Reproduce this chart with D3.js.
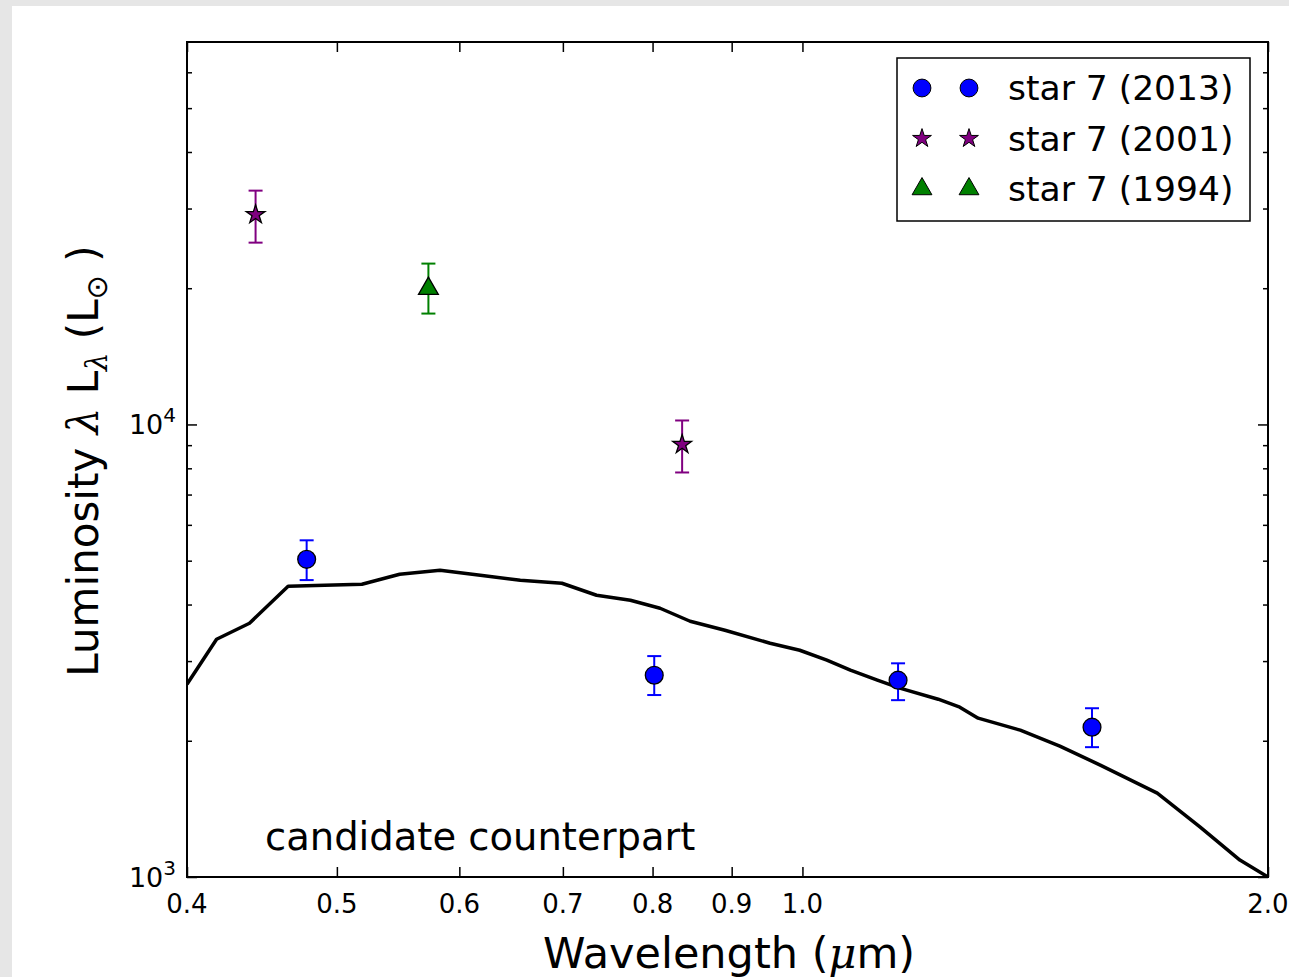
<!DOCTYPE html>
<html><head><meta charset="utf-8">
<script src="https://cdn.jsdelivr.net/npm/d3@7"></script>
<style>
html,body{margin:0;padding:0;background:#e6e6e6;}
svg{display:block;font-family:"DejaVu Sans",sans-serif;}
</style></head>
<body>
<svg id="c" width="1289" height="977"></svg>
<script>
// ---- data ----
const modelWave = [0.400,0.418,0.439,0.465,0.491,0.519,0.549,0.583,0.619,0.657,0.699,0.736,0.774,0.809,0.846,0.891,0.953,0.996,1.037,1.074,1.118,1.156,1.224,1.264,1.299,1.383,1.467,1.558,1.696,1.808,1.918,2.000];
const modelLum  = [2667,3353,3637,4389,4411,4434,4665,4761,4641,4524,4457,4194,4089,3925,3674,3510,3285,3170,3013,2864,2722,2614,2471,2373,2244,2111,1946,1767,1532,1289,1090,1000];

const s2013Wave = [0.478,0.802,1.153,1.539];
const s2013Lum  = [5035,2792,2722,2143];
const s2013Lo   = [4530,2524,2459,1936];
const s2013Hi   = [5546,3077,2966,2360];

const s2001Wave = [0.443,0.836];
const s2001Lum  = [29080,9032];
const s2001Lo   = [25220,7832];
const s2001Hi   = [32860,10204];

const s1994Wave = [0.573];
const s1994Lum  = [19960];
const s1994Lo   = [17580];
const s1994Hi   = [22670];

const xTicks = [0.4,0.5,0.6,0.7,0.8,0.9,1.0,2.0];
const xTickLabels = ["0.4","0.5","0.6","0.7","0.8","0.9","1.0","2.0"];
const yMajor = [1000,10000];
const yMajorExp = ["3","4"];
const yMinor = [2000,3000,4000,5000,6000,7000,8000,9000,20000,30000,40000,50000,60000];
const legendLabels = ["star 7 (2013)","star 7 (2001)","star 7 (1994)"];

// ---- layout ----
const svg = d3.select("#c");
svg.append("rect").attr("x",12).attr("y",6).attr("width",1289).attr("height",977).attr("fill","#fff");
const L=187,R=1268,T=42,B=877;
const x = d3.scaleLog().domain([0.4,2.0]).range([L,R]);
const y = d3.scaleLog().domain([1000,70000]).range([B,T]);

// axes ticks (inward)
const gB = svg.append("g").attr("transform",`translate(0,${B})`)
  .call(d3.axisBottom(x).tickValues(xTicks).tickSize(-10).tickFormat(""));
const gT = svg.append("g").attr("transform",`translate(0,${T})`)
  .call(d3.axisTop(x).tickValues(xTicks).tickSize(-10).tickFormat(""));
const gL = svg.append("g").attr("transform",`translate(${L},0)`)
  .call(d3.axisLeft(y).tickValues(yMajor).tickSize(-10).tickFormat(""));
const gR = svg.append("g").attr("transform",`translate(${R},0)`)
  .call(d3.axisRight(y).tickValues(yMajor).tickSize(-10).tickFormat(""));
const gLm = svg.append("g").attr("transform",`translate(${L},0)`)
  .call(d3.axisLeft(y).tickValues(yMinor).tickSize(-5).tickFormat(""));
const gRm = svg.append("g").attr("transform",`translate(${R},0)`)
  .call(d3.axisRight(y).tickValues(yMinor).tickSize(-5).tickFormat(""));
[gB,gT,gL,gR,gLm,gRm].forEach(g=>{
  g.select(".domain").remove();
  g.selectAll("line").attr("stroke","#000").attr("stroke-width",1.5);
});

// tick labels
svg.append("g").selectAll("text").data(xTicks).join("text")
  .attr("x",d=>x(d)).attr("y",913).attr("text-anchor","middle")
  .attr("font-size",26).attr("fill","#000")
  .text((d,i)=>xTickLabels[i]);
const yl = svg.append("g").selectAll("text").data(yMajor).join("text")
  .attr("x",176).attr("y",d=>y(d)+10).attr("text-anchor","end")
  .attr("font-size",27).attr("fill","#000");
yl.append("tspan").text("10");
yl.append("tspan").attr("font-size",20).attr("dy",-12).text((d,i)=>yMajorExp[i]);

// model line
const line = d3.line().x(d=>x(d[0])).y(d=>y(d[1]));
svg.append("clipPath").attr("id","pc").append("rect")
  .attr("x",L).attr("y",T).attr("width",R-L).attr("height",B-T);
svg.append("path").datum(modelWave.map((w,i)=>[w,modelLum[i]]))
  .attr("d",line).attr("fill","none").attr("stroke","#000").attr("stroke-width",3.5)
  .attr("stroke-linejoin","round").attr("clip-path","url(#pc)");

// error bars + markers
function errbars(wave,lo,hi,color){
  const g = svg.append("g").attr("stroke",color).attr("stroke-width",2);
  wave.forEach((w,i)=>{
    g.append("line").attr("x1",x(w)).attr("x2",x(w)).attr("y1",y(lo[i])).attr("y2",y(hi[i]));
    g.append("line").attr("x1",x(w)-7).attr("x2",x(w)+7).attr("y1",y(lo[i])).attr("y2",y(lo[i]));
    g.append("line").attr("x1",x(w)-7).attr("x2",x(w)+7).attr("y1",y(hi[i])).attr("y2",y(hi[i]));
  });
}
errbars(s2013Wave,s2013Lo,s2013Hi,"#0000ff");
errbars(s2001Wave,s2001Lo,s2001Hi,"#800080");
errbars(s1994Wave,s1994Lo,s1994Hi,"#008000");

const circ = d3.symbol().type(d3.symbolCircle).size(250);
const star = d3.symbol().type(d3.symbolStar).size(110);
const tri  = d3.symbol().type(d3.symbolTriangle).size(170);
function markers(wave,lum,sym,color){
  svg.append("g").selectAll("path").data(wave).join("path")
    .attr("transform",(d,i)=>`translate(${x(d)},${y(lum[i])})`)
    .attr("d",sym).attr("fill",color).attr("stroke","#000").attr("stroke-width",1.3);
}
markers(s2013Wave,s2013Lum,circ,"#0000ff");
markers(s2001Wave,s2001Lum,star,"#800080");
markers(s1994Wave,s1994Lum,tri,"#008000");

// frame
svg.append("rect").attr("x",L).attr("y",T).attr("width",R-L).attr("height",B-T)
  .attr("fill","none").attr("stroke","#000").attr("stroke-width",2);

// annotation
svg.append("text").attr("x",265).attr("y",850).attr("font-size",38.5).attr("fill","#000")
  .text("candidate counterpart");

// legend
const lg = svg.append("g");
lg.append("rect").attr("x",897).attr("y",58).attr("width",353).attr("height",163)
  .attr("fill","#fff").attr("stroke","#000").attr("stroke-width",1.5);
const legSyms=[circ,star,tri], legCols=["#0000ff","#800080","#008000"];
legendLabels.forEach((t,i)=>{
  const yy = 88 + i*50.5;
  [922,969].forEach(xx=>{
    lg.append("path").attr("transform",`translate(${xx},${yy})`).attr("d",legSyms[i])
      .attr("fill",legCols[i]).attr("stroke","#000").attr("stroke-width",1);
  });
  lg.append("text").attr("x",1008).attr("y",yy+12).attr("font-size",34.5).attr("fill","#000").text(t);
});

// axis labels
const xl = svg.append("text").attr("x",729).attr("y",968).attr("text-anchor","middle")
  .attr("font-size",43).attr("fill","#000");
xl.append("tspan").text("Wavelength (");
xl.append("tspan").attr("font-style","italic").attr("font-family","DejaVu Serif").text("μ");
xl.append("tspan").text("m)");

const ylab = svg.append("text").attr("transform","translate(98,461) rotate(-90)")
  .attr("text-anchor","middle").attr("font-size",42).attr("fill","#000");
ylab.append("tspan").text("Luminosity ");
ylab.append("tspan").attr("font-family","DejaVu Serif").attr("font-style","italic").text("λ");
ylab.append("tspan").text(" L");
ylab.append("tspan").attr("font-size",29).attr("dy",9).attr("font-family","DejaVu Serif").attr("font-style","italic").text("λ");
ylab.append("tspan").attr("dy",-9).text(" (L");
ylab.append("tspan").attr("font-size",29).attr("dy",9).text("⊙");
ylab.append("tspan").attr("dy",-9).text(" )");
</script>
</body></html>
